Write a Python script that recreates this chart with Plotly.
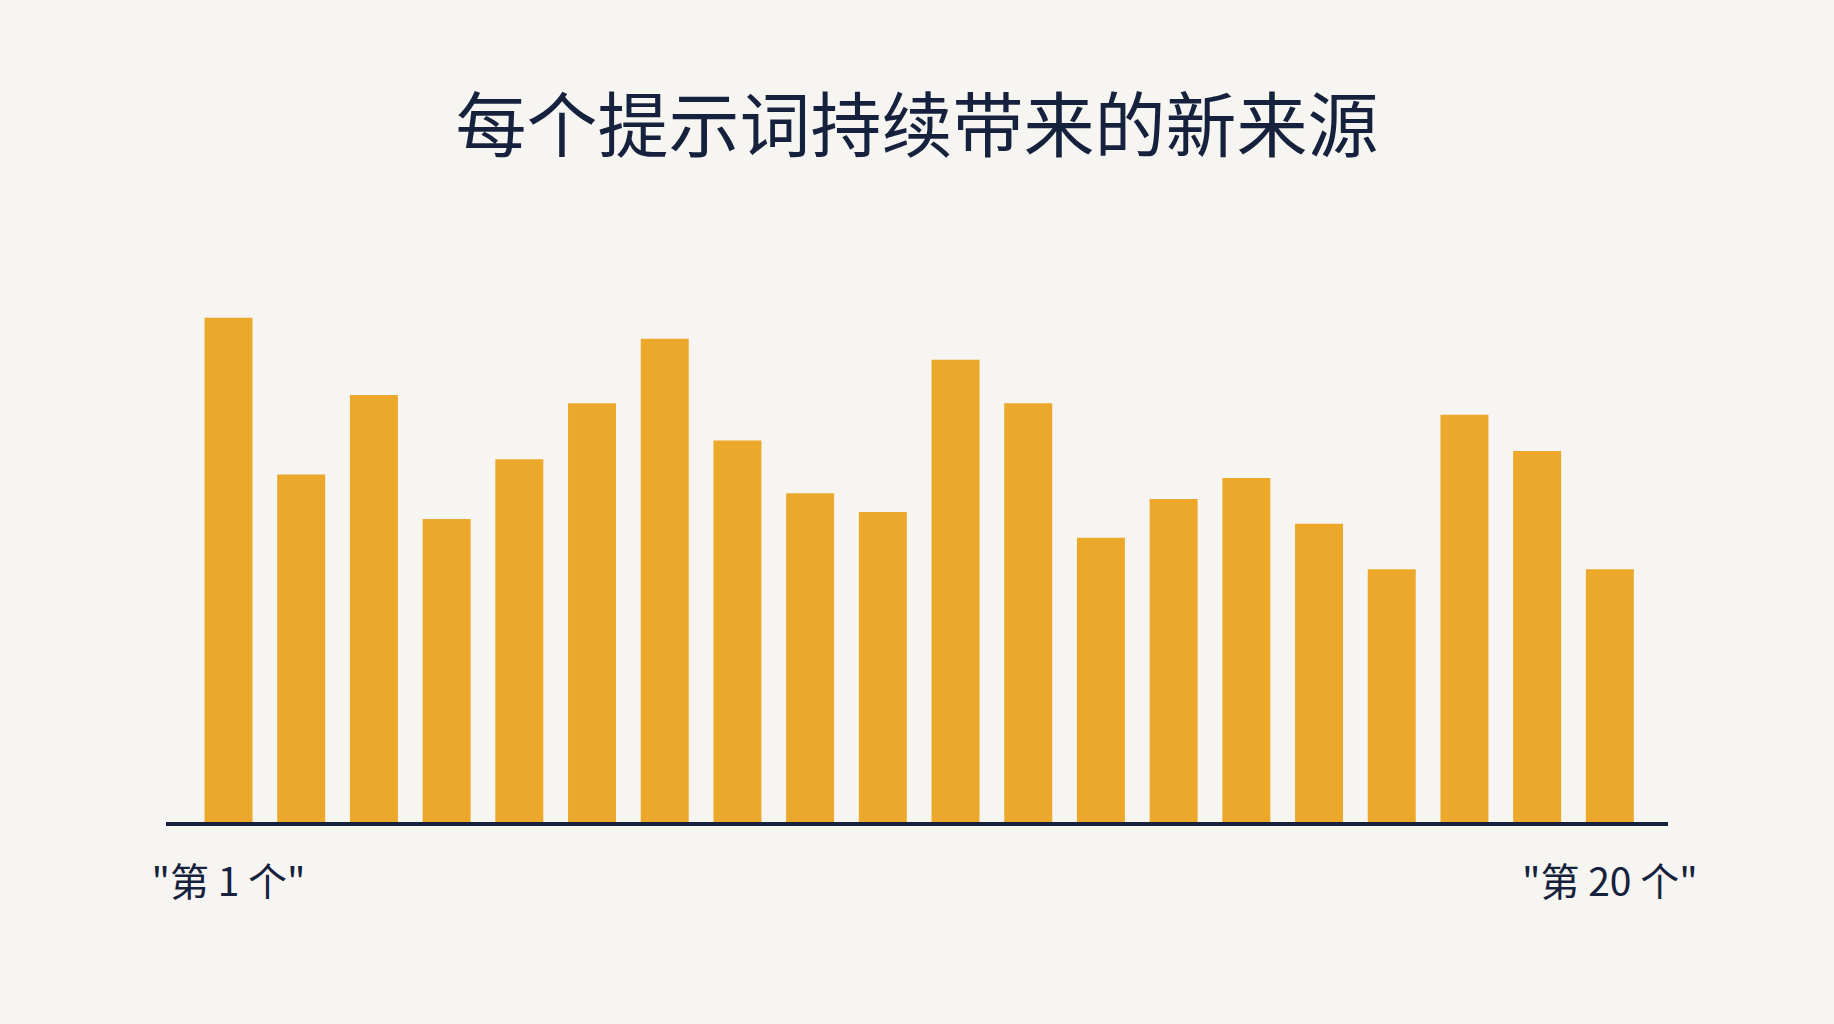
import plotly.graph_objects as go

categories = [f"第 {i} 个" for i in range(1, 21)]
values = [431, 297, 365, 259, 310, 358, 413, 326, 281, 265,
          395, 358, 243, 276, 294, 255, 216, 348, 317, 216]
tick_labels = ['"第 1 个"', '"第 20 个"']
title_text = "每个提示词持续带来的新来源"

BG = "#f6f5f1"
BAR = "#eca82a"
INK = "#16223d"

fig = go.Figure(go.Bar(
    x=list(range(len(values))),
    y=values,
    marker=dict(color=BAR, line=dict(width=0)),
    width=0.66,
    hovertext=categories,
))

fig.update_layout(
    width=1834, height=1024,
    paper_bgcolor=BG, plot_bgcolor=BG,
    margin=dict(l=166, r=166, t=237, b=202),
    title=dict(text=title_text, x=0.5, xanchor="center", y=1 - 126 / 1024, yanchor="middle",
               font=dict(family="Noto Sans CJK SC", size=71, color=INK, weight=400)),
    font=dict(family="Noto Sans CJK SC", color=INK),
    showlegend=False,
)
fig.update_xaxes(
    range=[-0.86, 19.8],
    tickvals=[0, 19], ticktext=tick_labels,
    tickfont=dict(size=39, color=INK, family="Noto Sans CJK SC"),
    showline=True, linecolor=INK, linewidth=3.5,
    showgrid=False, zeroline=False, ticks="", ticklabelstandoff=23,
)
fig.update_yaxes(range=[0, 500], visible=False, showgrid=False, zeroline=False)

fig.write_html(
    "out.html",
    config={"displayModeBar": False},
    post_script="document.body.style.margin='0';document.body.style.background='%s';" % BG,
)
